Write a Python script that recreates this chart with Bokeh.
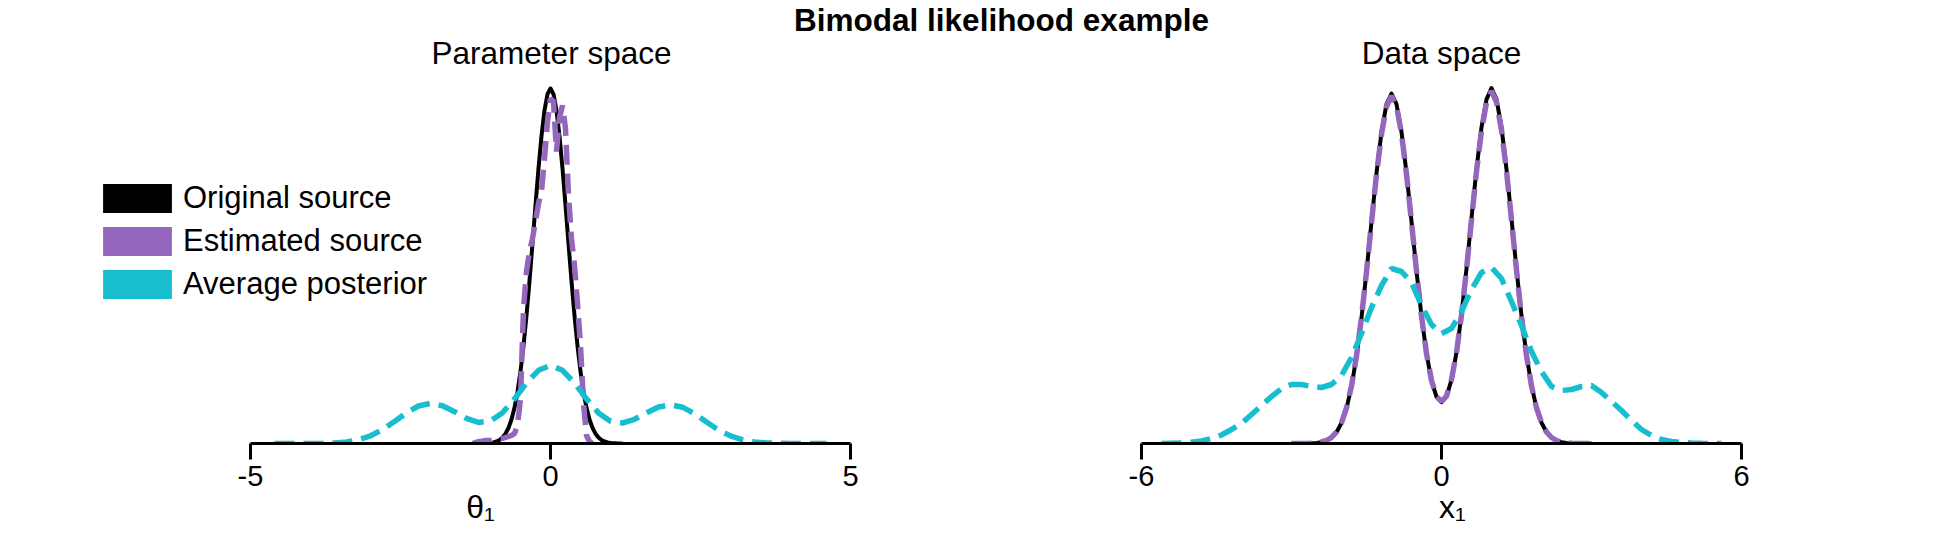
from bokeh.plotting import figure
from bokeh.models import Range1d, FixedTicker, Label, Legend, LegendItem
from bokeh.layouts import column, row
from bokeh.embed import file_html
from bokeh.resources import INLINE

# ---------------- data (heights, arbitrary density units) -------------
series_labels = ["Original source", "Estimated source", "Average posterior"]
series_colors = ["#000000", "#9467bd", "#17becf"]

# Parameter space
param_x_orig = [-1.2, -1.15, -1.1, -1.05, -1.0, -0.95, -0.9, -0.85, -0.8, -0.75, -0.7, -0.65,
                -0.6, -0.55, -0.5, -0.45, -0.4, -0.35, -0.3, -0.25, -0.2, -0.15, -0.1, -0.05,
                0.0, 0.05, 0.1, 0.15, 0.2, 0.25, 0.3, 0.35, 0.4, 0.45, 0.5, 0.55, 0.6, 0.65,
                0.7, 0.75, 0.8, 0.85, 0.9, 0.95, 1.0, 1.05, 1.1, 1.15, 1.2]
param_y_orig = [0.0, 0.1, 0.15, 0.3, 0.6, 1.1, 2.0, 3.5, 6.0, 9.8, 15.6, 24.0, 35.7, 51.6,
                72.1, 97.6, 127.9, 162.5, 200.0, 238.3, 275.1, 307.5, 333.1, 349.4, 355.0,
                349.4, 333.1, 307.5, 275.1, 238.3, 200.0, 162.5, 127.9, 97.6, 72.1, 51.6,
                35.7, 24.0, 15.6, 9.8, 6.0, 3.5, 2.0, 1.1, 0.6, 0.3, 0.15, 0.1, 0.0]

param_x_est = [-1.3, -1.25, -1.2, -1.15, -1.1, -1.05, -1.0, -0.95, -0.9, -0.85, -0.8, -0.75,
               -0.7, -0.65, -0.6, -0.55, -0.5, -0.45, -0.4, -0.35, -0.3, -0.25, -0.2, -0.15,
               -0.1, -0.05, 0.0, 0.05, 0.1, 0.15, 0.2, 0.25, 0.3, 0.35, 0.4, 0.45, 0.5, 0.55,
               0.6, 0.65, 0.7]
param_y_est = [0, 1, 2, 2, 3, 3, 3, 4, 4, 5, 5, 6, 7, 8, 10, 18, 45, 135, 172, 192, 205, 222,
               240, 252, 285, 322, 345, 342, 292, 326, 338, 315, 248, 205, 178, 140, 98, 40,
               8, 2, 0]

param_x_avg = [-4.6, -4.4, -4.2, -4.0, -3.8, -3.6, -3.4, -3.2, -3.0, -2.8, -2.6, -2.4, -2.2,
               -2.0, -1.8, -1.6, -1.4, -1.2, -1.0, -0.8, -0.6, -0.4, -0.2, 0.0, 0.2, 0.4,
               0.6, 0.8, 1.0, 1.2, 1.4, 1.6, 1.8, 2.0, 2.2, 2.4, 2.6, 2.8, 3.0, 3.2, 3.4,
               3.6, 3.8, 4.0, 4.2, 4.4, 4.6]
param_y_avg = [0, 0, 0, 0.05, 0.2, 0.6, 1.6, 3.7, 7.7, 13.9, 22.1, 30.7, 37.5, 40.1, 37.8,
               31.8, 25.1, 21.1, 22.6, 30.8, 44.6, 60.5, 73.2, 78.1, 73.2, 60.5, 44.6, 30.6,
               22.2, 20.5, 24.2, 30.6, 36.5, 38.8, 36.3, 29.8, 21.5, 13.6, 7.6, 3.7, 1.6, 0.6,
               0.2, 0.05, 0, 0, 0]

# Data space
data_x = [-3.0, -2.9, -2.8, -2.7, -2.6, -2.5, -2.4, -2.3, -2.2, -2.1, -2.0, -1.9, -1.8, -1.7,
          -1.6, -1.5, -1.4, -1.3, -1.2, -1.1, -1.0, -0.9, -0.8, -0.7, -0.6, -0.5, -0.4, -0.3,
          -0.2, -0.1, 0.0, 0.1, 0.2, 0.3, 0.4, 0.5, 0.6, 0.7, 0.8, 0.9, 1.0, 1.1, 1.2, 1.3,
          1.4, 1.5, 1.6, 1.7, 1.8, 1.9, 2.0, 2.1, 2.2, 2.3, 2.4, 2.5, 2.6, 2.7, 2.8, 2.9, 3.0]
data_y_orig = [0, 0, 0, 0.1, 0.25, 0.6, 1.35, 2.9, 5.9, 11.3, 20.5, 35.1, 56.9, 87.0, 125.8,
               171.8, 221.8, 270.4, 311.6, 339.3, 350.0, 339.3, 311.6, 270.5, 222.0, 172.4,
               127.2, 89.9, 62.9, 46.6, 41.3, 46.9, 63.6, 91.2, 129.0, 174.9, 225.2, 274.4,
               316.1, 344.1, 355.5, 344.1, 316.1, 274.3, 224.9, 174.3, 127.6, 88.3, 57.7, 35.6,
               20.8, 11.5, 6.0, 2.9, 1.4, 0.6, 0.25, 0.1, 0, 0, 0]
data_y_est = [0, 0, 0, 0.1, 0.3, 0.7, 1.5, 3.0, 6.0, 11.5, 20.8, 35.5, 57.5, 87.5, 126.0,
              171.5, 221.0, 269.0, 309.5, 337.0, 347.5, 337.5, 310.0, 269.5, 221.5, 172.5,
              127.5, 90.0, 63.0, 47.0, 42.0, 47.5, 64.0, 91.0, 128.5, 174.0, 223.5, 272.0,
              313.0, 341.0, 352.5, 341.5, 313.5, 272.5, 223.5, 173.5, 127.0, 88.0, 57.5, 35.5,
              21.0, 11.5, 6.0, 3.0, 1.4, 0.6, 0.3, 0.1, 0, 0, 0]

data_x_avg = [-5.6, -5.4, -5.2, -5.0, -4.8, -4.6, -4.4, -4.2, -4.0, -3.8, -3.6, -3.4, -3.2,
              -3.0, -2.8, -2.6, -2.4, -2.2, -2.0, -1.8, -1.6, -1.4, -1.2, -1.0, -0.8, -0.6,
              -0.4, -0.2, 0.0, 0.2, 0.4, 0.6, 0.8, 1.0, 1.2, 1.4, 1.6, 1.8, 2.0, 2.2, 2.4,
              2.6, 2.8, 3.0, 3.2, 3.4, 3.6, 3.8, 4.0, 4.2, 4.4, 4.6, 4.8, 5.0, 5.2, 5.4, 5.6]
data_y_avg = [0, 0.3, 0.6, 1.2, 2.5, 5, 8.5, 14, 20, 29, 38, 47, 55, 59, 59, 57, 56, 59, 68,
              86, 110, 136, 158, 175, 172, 161, 138, 119, 110, 115, 132, 154, 171, 176, 165,
              142, 118, 92, 72, 57, 53, 54, 57, 58, 51, 42, 33, 23, 14, 8, 4, 2, 1, 0.5, 0.2,
              0, 0]

param_ticks = [-5, 0, 5]
param_tick_labels = ["-5", "0", "5"]
data_ticks = [-6, 0, 6]
data_tick_labels = ["-6", "0", "6"]

main_title = "Bimodal likelihood example"
panel_titles = ["Parameter space", "Data space"]
axis_labels = ["θ₁", "x₁"]

# ---------------- layout constants (page pixels; Bokeh page has no body margin) ----------------
FONT = "Liberation Sans"
TOTAL_W = 1944
TITLE_H = 72            # strip holding the three titles
AXIS_Y = 443            # page y of the x-axis line
PANEL_H = 472
FRAME_H = AXIS_Y - TITLE_H
BOTTOM = PANEL_H - FRAME_H
LEFT_W = 960
RIGHT_W = TOTAL_W - LEFT_W
L_AX = (250, 850)       # page x of left axis ends
R_AX = (1141, 1741)     # page x of right axis ends
BASELINE_FIX = 12       # alphabetic baseline renders this much lower than asked


def make_panel(width, page_x0, ax_px, ticks, tick_labels, xlabel):
    lo, hi = ticks[0], ticks[-1]
    a0, a1 = ax_px[0] - page_x0, ax_px[1] - page_x0
    ppu = (a1 - a0) / (hi - lo)
    start = lo - a0 / ppu
    end = hi + (width - a1) / ppu
    p = figure(width=width, height=PANEL_H, x_range=Range1d(start, end),
               y_range=Range1d(0, FRAME_H), output_backend="svg", toolbar_location=None,
               y_axis_location=None, min_border_left=0, min_border_right=0,
               min_border_top=0, min_border_bottom=BOTTOM, outline_line_color=None,
               background_fill_color="white", border_fill_color="white", title=None)
    p.grid.visible = False
    ax = p.xaxis[0]
    ax.ticker = FixedTicker(ticks=ticks)
    ax.major_label_overrides = {t: s for t, s in zip(ticks, tick_labels)}
    ax.bounds = (lo, hi)
    ax.axis_line_width = 3
    ax.axis_line_color = "black"
    ax.major_tick_line_width = 3
    ax.major_tick_line_color = "black"
    ax.major_tick_in = 0
    ax.major_tick_out = 16
    ax.minor_tick_line_color = None
    ax.major_label_text_font = FONT
    ax.major_label_text_font_size = "29px"
    ax.major_label_text_color = "black"
    ax.major_label_standoff = 6
    ax.axis_label = xlabel
    ax.axis_label_text_font = FONT
    ax.axis_label_text_font_size = "32px"
    ax.axis_label_text_font_style = "normal"
    ax.axis_label_text_color = "black"
    ax.axis_label_standoff = 0
    return p


p1 = make_panel(LEFT_W, 0, L_AX, param_ticks, param_tick_labels, axis_labels[0])
p2 = make_panel(RIGHT_W, LEFT_W, R_AX, data_ticks, data_tick_labels, axis_labels[1])

DASH = "20 9"
p1.line(param_x_orig, param_y_orig, line_color=series_colors[0], line_width=4, line_join="round")
p1.line(param_x_est, param_y_est, line_color=series_colors[1], line_width=5.5, line_dash=DASH)
p1.line(param_x_avg, param_y_avg, line_color=series_colors[2], line_width=5.5, line_dash=DASH)

p2.line(data_x, data_y_orig, line_color=series_colors[0], line_width=4, line_join="round")
p2.line(data_x, data_y_est, line_color=series_colors[1], line_width=5.5, line_dash=DASH)
p2.line(data_x_avg, data_y_avg, line_color=series_colors[2], line_width=5.5, line_dash=DASH)

# legend with filled boxes (proxy renderers that draw nothing in the plot)
nan = float("nan")
items = []
for lab, col in zip(series_labels, series_colors):
    r = p1.quad(left=[nan], right=[nan], top=[nan], bottom=[nan], fill_color=col, line_color=None)
    items.append(LegendItem(label=lab, renderers=[r]))
legend = Legend(items=items, location=(94, 141), orientation="vertical",
                glyph_width=86, glyph_height=36, label_height=36, spacing=7,
                padding=0, margin=0, label_standoff=3,
                label_text_font=FONT, label_text_font_size="31px", label_text_color="black",
                border_line_color=None, background_fill_alpha=0)
p1.add_layout(legend)

# title strip (page y 0 .. TITLE_H); y measured upward from its bottom
pt = figure(width=TOTAL_W, height=TITLE_H, x_range=Range1d(0, TOTAL_W), y_range=Range1d(0, TITLE_H),
            output_backend="svg", toolbar_location=None, x_axis_location=None,
            y_axis_location=None, min_border=0, outline_line_color=None, title=None)
pt.grid.visible = False
pt.add_layout(Label(x=1001, y=TITLE_H - 31 + BASELINE_FIX, text=main_title, text_align="center",
                    text_baseline="alphabetic", text_font=FONT, text_font_size="31.5px",
                    text_font_style="bold", text_color="black"))
for cx, txt in zip([551, 1441], panel_titles):
    pt.add_layout(Label(x=cx, y=TITLE_H - 64 + BASELINE_FIX, text=txt, text_align="center",
                        text_baseline="alphabetic", text_font=FONT, text_font_size="31.5px",
                        text_color="black"))

layout = column(pt, row(p1, p2))
open("out.html", "w").write(file_html(layout, INLINE))
